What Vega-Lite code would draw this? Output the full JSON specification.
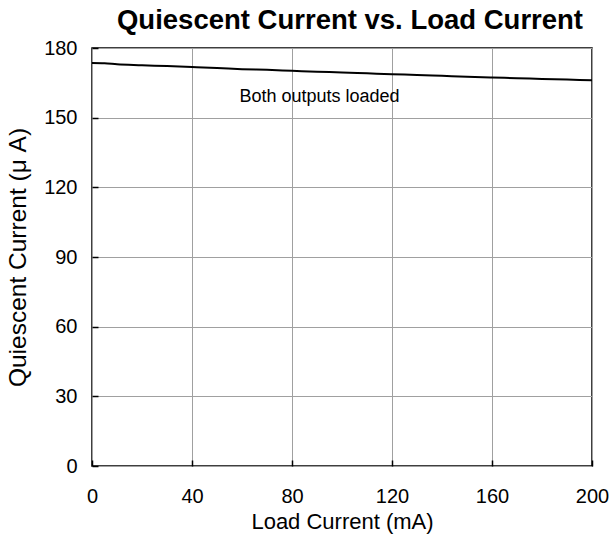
{
  "$schema": "https://vega.github.io/schema/vega-lite/v6.json",
  "width": 500,
  "height": 418,
  "autosize": "none",
  "padding": {"left": 92, "top": 48, "right": 18, "bottom": 74},
  "background": "white",
  "title": {"text": "Quiescent Current vs. Load Current", "font": "Liberation Sans", "fontSize": 27.5, "fontWeight": "bold", "color": "black", "anchor": "middle", "offset": 4, "dx": 8},
  "config": {
    "view": {"stroke": "black", "strokeWidth": 1.5},
    "axis": {"labelFont": "Liberation Sans", "titleFont": "Liberation Sans", "labelFontSize": 20, "titleFontSize": 22, "titleFontWeight": "normal", "labelColor": "black", "titleColor": "black", "domainColor": "black", "tickColor": "black", "tickWidth": 1.5, "gridColor": "#a0a0a0", "gridWidth": 1, "tickSize": -6, "domain": false, "labelFlush": false}
  },
  "layer": [
    {
      "data": {"values": [
        {"x": 0, "y": 173.5}, {"x": 5, "y": 173.4}, {"x": 10, "y": 173.0}, {"x": 20, "y": 172.6}, {"x": 30, "y": 172.2}, {"x": 40, "y": 171.8},
        {"x": 50, "y": 171.4}, {"x": 60, "y": 170.9}, {"x": 70, "y": 170.6}, {"x": 80, "y": 170.2}, {"x": 90, "y": 169.8},
        {"x": 100, "y": 169.5}, {"x": 110, "y": 169.1}, {"x": 120, "y": 168.7}, {"x": 130, "y": 168.4}, {"x": 140, "y": 168.0},
        {"x": 150, "y": 167.6}, {"x": 160, "y": 167.3}, {"x": 170, "y": 167.0}, {"x": 180, "y": 166.7}, {"x": 190, "y": 166.4}, {"x": 200, "y": 166.1}
      ]},
      "mark": {"type": "line", "color": "black", "strokeWidth": 2, "interpolate": "monotone"},
      "encoding": {
        "x": {"field": "x", "type": "quantitative", "scale": {"domain": [0, 200], "nice": false}, "axis": {"values": [0, 40, 80, 120, 160, 200], "title": "Load Current (mA)", "labelPadding": 26, "titlePadding": 5}},
        "y": {"field": "y", "type": "quantitative", "scale": {"domain": [0, 180], "nice": false}, "axis": {"values": [0, 30, 60, 90, 120, 150, 180], "title": "Quiescent Current (μ A)", "titleFontSize": 24.5, "labelPadding": 21, "titlePadding": 13}}
      }
    },
    {
      "data": {"values": [{"x": 91, "y": 159, "label": "Both outputs loaded"}]},
      "mark": {"type": "text", "font": "Liberation Sans", "fontSize": 18, "color": "black", "align": "center", "baseline": "middle"},
      "encoding": {
        "x": {"field": "x", "type": "quantitative"},
        "y": {"field": "y", "type": "quantitative"},
        "text": {"field": "label"}
      }
    }
  ]
}
